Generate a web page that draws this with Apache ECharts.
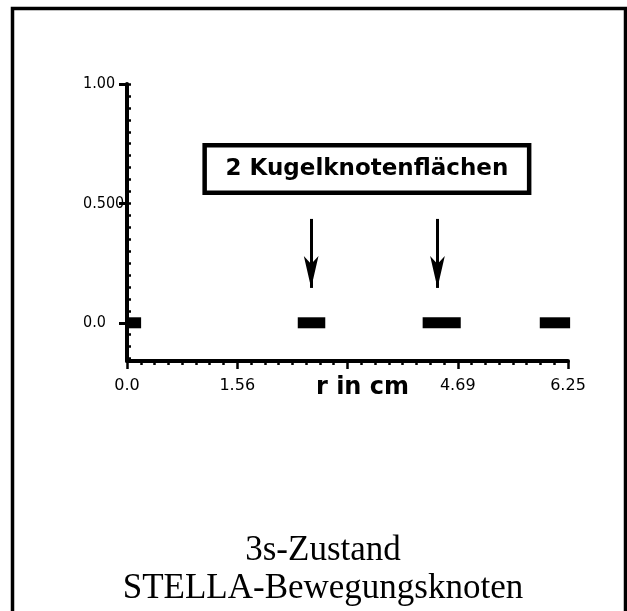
<!DOCTYPE html>
<html>
<head>
<meta charset="utf-8">
<script src="https://cdn.jsdelivr.net/npm/echarts@6/dist/echarts.min.js"></script>
<style>
html,body{margin:0;padding:0;background:#fff;}
#c{width:627px;height:611px;}
</style>
</head>
<body>
<div id="c"></div>
<script>
// ---- data ----
const nodeSegments = [[0.0, 0.20], [2.42, 2.81], [4.19, 4.73], [5.85, 6.28]];
const arrowX = [2.61, 4.40];
const arrowTop = 0.435;
const arrowTip = 0.146;
const boxLabel = '2 Kugelknotenflächen';
const boxPos = [3.40, 0.644];
const xTickValues = [0, 1.5625, 4.6875, 6.25];
const xTickLabels = ['0.0', '1.56', '4.69', '6.25'];
const xMajorTicks = [0, 1.5625, 3.125, 4.6875, 6.25];
const xMinorStep = 0.1953125;
const yTickValues = [0, 0.5, 1.0];
const yTickLabels = ['0.0', '0.500', '1.00'];
const yMinorStep = 0.05;
const xName = 'r in cm';
const titleLines = ['3s-Zustand', 'STELLA-Bewegungsknoten'];

const xMinor = [];
for (let i = 0; i <= 32; i++) xMinor.push(+(i * xMinorStep).toFixed(6));
const yMinor = [];
for (let i = -3; i <= 20; i++) yMinor.push(+(i * yMinorStep).toFixed(4));

const labelFont = "'DejaVu Sans Condensed', 'Liberation Sans Narrow', 'DejaVu Sans', sans-serif";

const series = nodeSegments.map(s => ({
  type: 'line',
  xAxisIndex: 0, yAxisIndex: 0,
  data: [[s[0], 0], [s[1], 0]],
  showSymbol: false,
  clip: false,
  silent: true,
  lineStyle: {color: '#000', width: 11, cap: 'butt'}
}));
series[0].markLine = {
  silent: true,
  symbol: ['none', 'arrow'],
  label: {show: false},
  lineStyle: {color: '#000', width: 3, type: 'solid'},
  data: arrowX.map(x => [
    {coord: [x, arrowTop], symbol: 'none'},
    {coord: [x, arrowTip], symbol: 'arrow', symbolSize: [11, 32]}
  ])
};
series[0].markPoint = {
  silent: true,
  symbol: 'circle',
  symbolSize: 0,
  data: [{
    coord: boxPos,
    label: {
      show: true, position: 'inside', formatter: boxLabel,
      color: '#000', fontFamily: "'DejaVu Sans', sans-serif",
      fontWeight: 'bold', fontSize: 23,
      backgroundColor: '#fff', borderColor: '#000', borderWidth: 4.5,
      width: 300, align: 'center', verticalAlign: 'middle', lineHeight: 26,
      padding: [9, 10, 8, 10]
    }
  }]
};

const chart = echarts.init(document.getElementById('c'), null, {renderer: 'canvas'});
chart.setOption({
  backgroundColor: '#fff',
  animation: false,
  title: {
    text: titleLines.join('\n'),
    left: 318, top: 527,
    textAlign: 'center',
    textStyle: {
      fontFamily: "'Liberation Serif', 'Times New Roman', serif",
      fontWeight: 'normal', fontSize: 35, lineHeight: 38, color: '#000'
    }
  },
  grid: {left: 127, right: 59, top: 84, bottom: 250, containLabel: false},
  xAxis: [{
    type: 'value', min: 0, max: 6.25, position: 'bottom',
    axisLine: {show: true, onZero: false, lineStyle: {color: '#000', width: 4}},
    axisTick: {show: true, customValues: xMajorTicks, length: 8, inside: false, lineStyle: {color: '#000', width: 2.5}},
    axisLabel: {
      show: true, customValues: xTickValues, margin: 17,
      formatter: v => { const i = xTickValues.findIndex(t => Math.abs(t - v) < 1e-6); return i >= 0 ? xTickLabels[i] : ''; },
      color: '#000', fontFamily: "'DejaVu Sans', sans-serif", fontSize: 16
    },
    splitLine: {show: false},
    name: xName, nameLocation: 'middle', nameGap: 15, nameMoveOverlap: false,
    nameTextStyle: {color: '#000', fontFamily: "'DejaVu Sans', sans-serif", fontWeight: 'bold', fontSize: 24, padding: [0, 0, 0, 30], verticalAlign: 'top'}
  }, {
    type: 'value', min: 0, max: 6.25, position: 'bottom',
    axisLine: {show: false, onZero: false},
    axisTick: {show: true, customValues: xMinor, length: 4, inside: false, lineStyle: {color: '#000', width: 2.5}},
    axisLabel: {show: false},
    splitLine: {show: false}
  }],
  yAxis: [{
    type: 'value', min: -0.16, max: 1.0, position: 'left',
    axisLine: {show: true, onZero: false, lineStyle: {color: '#000', width: 4}},
    axisTick: {show: true, customValues: yTickValues, length: 8, inside: false, lineStyle: {color: '#000', width: 3}},
    axisLabel: {
      show: true, customValues: yTickValues, margin: 44, align: 'left',
      formatter: v => { const i = yTickValues.findIndex(t => Math.abs(t - v) < 1e-6); return i >= 0 ? yTickLabels[i] : ''; },
      color: '#000', fontFamily: labelFont, fontSize: 16
    },
    splitLine: {show: false}
  }, {
    type: 'value', min: -0.16, max: 1.0, position: 'left',
    axisLine: {show: false, onZero: false},
    axisTick: {show: true, customValues: yMinor, length: 4, inside: true, lineStyle: {color: '#000', width: 2.5}},
    axisLabel: {show: false},
    splitLine: {show: false}
  }],
  graphic: [{
    type: 'rect', silent: true, z: 100,
    shape: {x: 12.5, y: 8.5, width: 613, height: 800},
    style: {fill: null, stroke: '#000', lineWidth: 3.5}
  }],
  series: series
});
</script>
</body>
</html>
